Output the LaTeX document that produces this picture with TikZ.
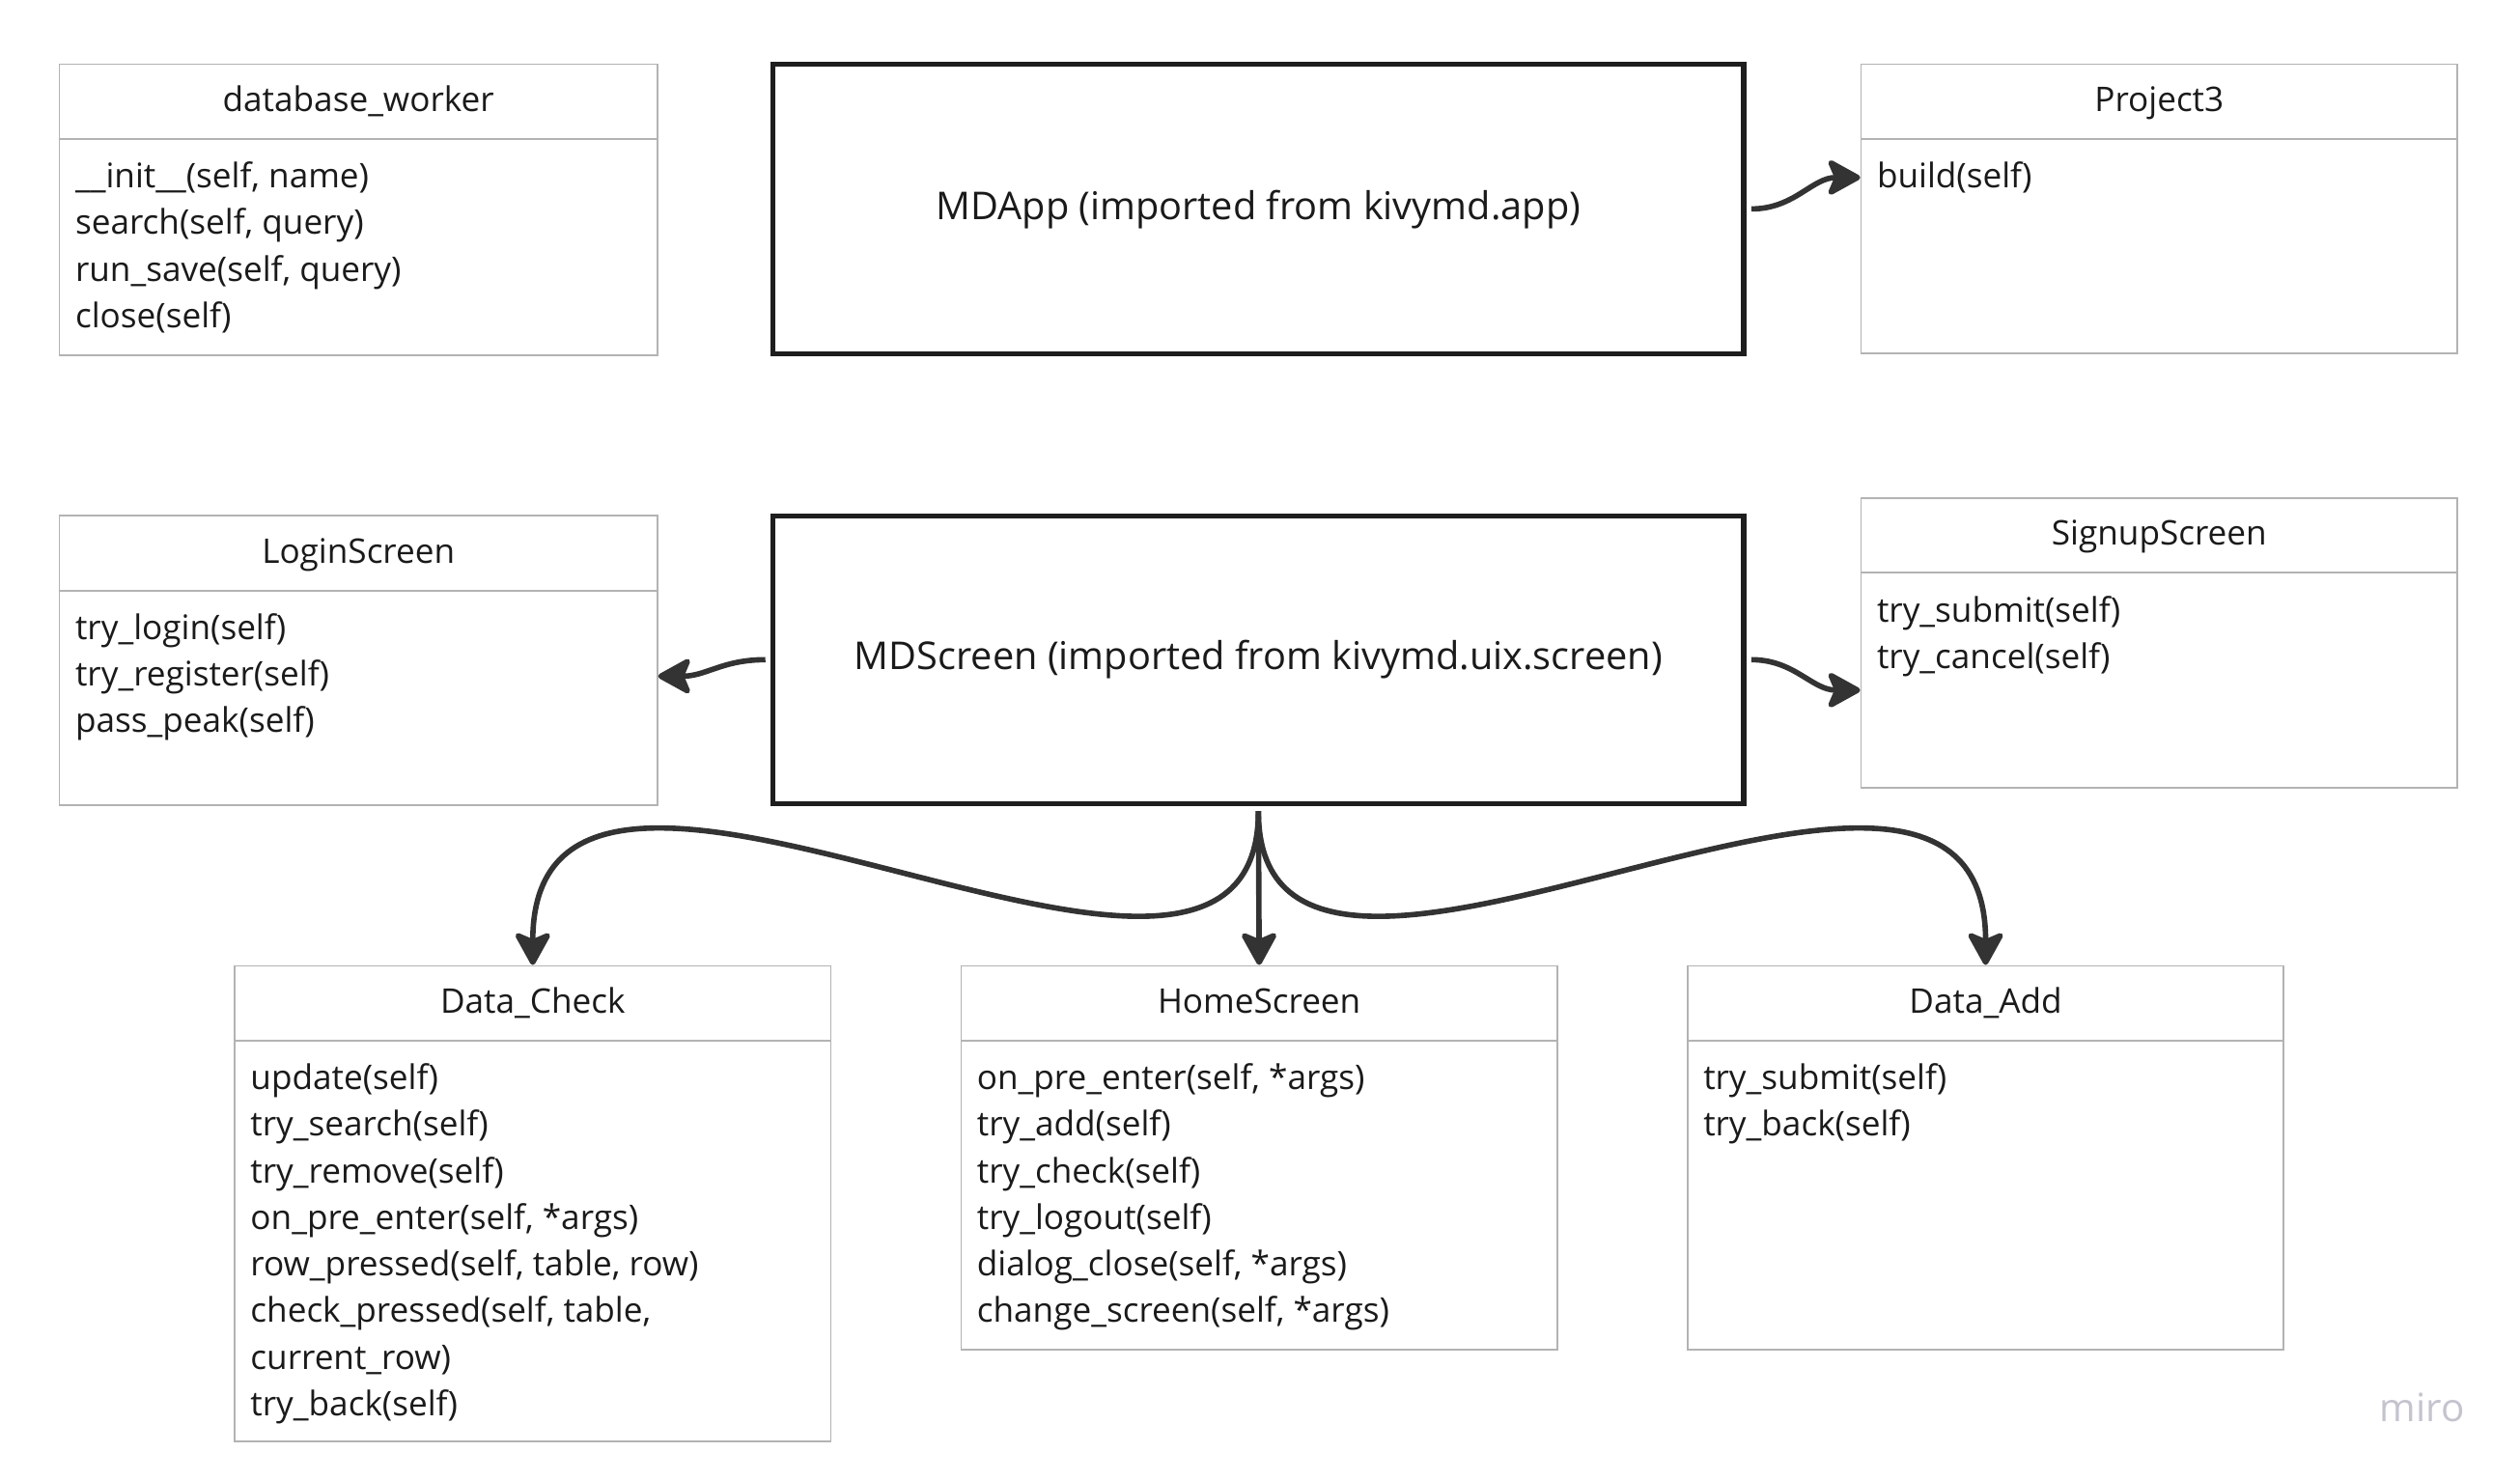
\documentclass[tikz,border=0pt]{standalone}
\usepackage{fontspec}
\setmainfont{Open Sans}
\usetikzlibrary{arrows.meta,calc,fit}
\definecolor{BoxClr}{HTML}{B3B3B3}
\definecolor{BaseClr}{HTML}{1E1E1E}
\definecolor{TextClr}{HTML}{1A1A1A}
\definecolor{LinkClr}{HTML}{333333}
\definecolor{MiroClr}{HTML}{C4C4CF}

\tikzset{
  classbox/.style={draw=BoxClr, line width=0.5pt, inner sep=0pt},
  basebox/.style={draw=BaseClr, line width=1.5pt, inner sep=0pt},
  classtitle/.style={text=TextClr, font=\fontsize{10}{12}\selectfont, inner sep=0pt, text height=7.5pt, text depth=2.5pt},
  method/.style={text=TextClr, font=\fontsize{10}{12}\selectfont, inner sep=0pt, anchor=base west},
  basetext/.style={text=TextClr, font=\fontsize{11.3}{14}\selectfont, inner sep=0pt},
  link/.style={draw=LinkClr, line width=1.6pt, shorten <=1.5pt,
    -{Stealth[length=11pt, width=12pt, inset=2.5pt, round]}},
}

% name, left, top, right, bottom, title, methods
\newcommand{\umlclass}[7]{%
  \node[classbox, fit={(#2,#3) (#4,#5)}] (#1) {};
  \node[classtitle] (#1-title) at ($(#1.north)+(0,24.5)$) {#6};
  \draw[classbox] ($(#1.north west)+(0,47)$) -- ($(#1.north east)+(0,47)$);
  \foreach \m [count=\i] in {#7}
    \node[method] (#1-\i) at ($(#1.north west)+(10,{77.5+(\i-1)*29})$) {\m};
}

\begin{document}
\begin{tikzpicture}[x=0.016645cm, y=-0.016645cm]
\useasboundingbox (0,0) rectangle (1568,920.4);

% Top row.
\umlclass{dbworker}{37}{40}{409}{221}{database\_worker}
  {{\_\_init\_\_(self, name)}, {search(self, query)}, {run\_save(self, query)}, close(self)}
\node[basebox, fit={(481,40) (1085,220)}] (mdapp) {};
\node[basetext] (mdapp-title) at ($(mdapp.center)+(0,0.5)$) {MDApp (imported from kivymd.app)};
\umlclass{project3}{1158}{40}{1529}{220}{Project3}{build(self)}

% Middle row.
\umlclass{login}{37}{321}{409}{501}{LoginScreen}
  {try\_login(self), try\_register(self), pass\_peak(self)}
\node[basebox, fit={(481,321) (1085,500)}] (mdscreen) {};
\node[basetext] (mdscreen-title) at (mdscreen.center) {MDScreen (imported from kivymd.uix.screen)};
\umlclass{signup}{1158}{310}{1529}{490}{SignupScreen}
  {try\_submit(self), try\_cancel(self)}

% Bottom row.
\umlclass{datacheck}{146}{601}{517}{897}{Data\_Check}
  {update(self), try\_search(self), try\_remove(self), {on\_pre\_enter(self, *args)},
   {row\_pressed(self, table, row)}, {check\_pressed(self, table,}, current\_row), try\_back(self)}
\umlclass{home}{598}{601}{969}{840}{HomeScreen}
  {{on\_pre\_enter(self, *args)}, try\_add(self), try\_check(self), try\_logout(self),
   {dialog\_close(self, *args)}, {change\_screen(self, *args)}}
\umlclass{dataadd}{1050}{601}{1421}{840}{Data\_Add}
  {try\_submit(self), try\_back(self)}

% Connectors.
\draw[link] (mdapp.east) .. controls +(30,0) and +(-30,0) .. (project3.174);
\draw[link] (mdscreen.west) .. controls +(-30,0) and +(30,0) .. (login.-3);
\draw[link] (mdscreen.east) .. controls +(30,0) and +(-30,0) .. (signup.189);
\draw[link] (mdscreen.south) -- (home.north);
\draw[link] (mdscreen.south) .. controls +(0,195) and +(0,-215) .. (datacheck.north);
\draw[link] (mdscreen.south) .. controls +(0,195) and +(0,-215) .. (dataadd.north);

\node[text=MiroClr, font=\fontsize{11.5}{14}\selectfont] (miro) at (1507,876) {miro};
\end{tikzpicture}
\end{document}
